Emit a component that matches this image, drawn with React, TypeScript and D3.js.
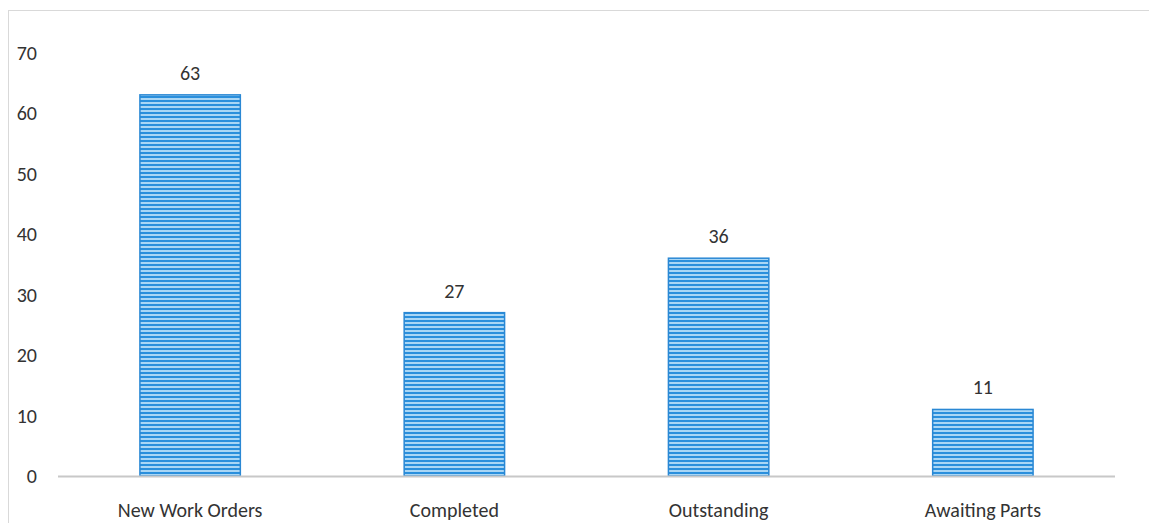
import React from "react";
import * as d3 from "d3";

const categories = ["New Work Orders", "Completed", "Outstanding", "Awaiting Parts"];
const counts = [63, 27, 36, 11];
const yTicks = [0, 10, 20, 30, 40, 50, 60, 70];

const W = 1149;
const H = 523;

const App = () => {
  const x = d3
    .scaleBand<string>()
    .domain(categories)
    .range([58, 1115])
    .paddingInner(0.62)
    .paddingOuter(0.31);
  const y = d3.scaleLinear().domain([0, 70]).range([476, 52.5]);

  const font = "Carlito, 'Open Sans', 'Liberation Sans', sans-serif";

  return (
    <svg width={W} height={H} style={{ position: "absolute", left: 0, top: 0 }}>
      <defs>
        <pattern id="stripes" width="8" height="4" patternUnits="userSpaceOnUse">
          <rect width="8" height="4" fill="#a9d6f5" />
          <rect y="0" width="8" height="2" fill="#2a8fdc" />
        </pattern>
      </defs>
      <rect x={0} y={0} width={W} height={H} fill="#fff" />
      {/* frame */}
      <line x1={8} x2={W} y1={10.5} y2={10.5} stroke="#d9d9d9" />
      <line x1={8.5} x2={8.5} y1={10} y2={H} stroke="#d9d9d9" />

      {yTicks.map((t) => (
        <text
          key={t}
          x={37}
          y={y(t)}
          dy="0.35em"
          textAnchor="end"
          fontFamily={font}
          fontSize={20}
          fill="#333"
        >
          {t}
        </text>
      ))}

      {categories.map((c, i) => (
        <g key={c}>
          <rect
            x={x(c)}
            y={y(counts[i])}
            width={x.bandwidth()}
            height={y(0) - y(counts[i])}
            fill="url(#stripes)"
            stroke="#2a88d4"
            strokeWidth={1.5}
          />
          <text
            x={(x(c) as number) + x.bandwidth() / 2}
            y={y(counts[i]) - 15}
            textAnchor="middle"
            fontFamily={font}
            fontSize={20}
            fill="#333"
          >
            {counts[i]}
          </text>
          <text
            x={(x(c) as number) + x.bandwidth() / 2}
            y={517}
            textAnchor="middle"
            fontFamily={font}
            fontSize={20}
            fill="#333"
          >
            {c}
          </text>
        </g>
      ))}

      <line x1={58} x2={1115} y1={476.5} y2={476.5} stroke="#c8c8c8" strokeWidth={2} />
    </svg>
  );
};

export default App;
